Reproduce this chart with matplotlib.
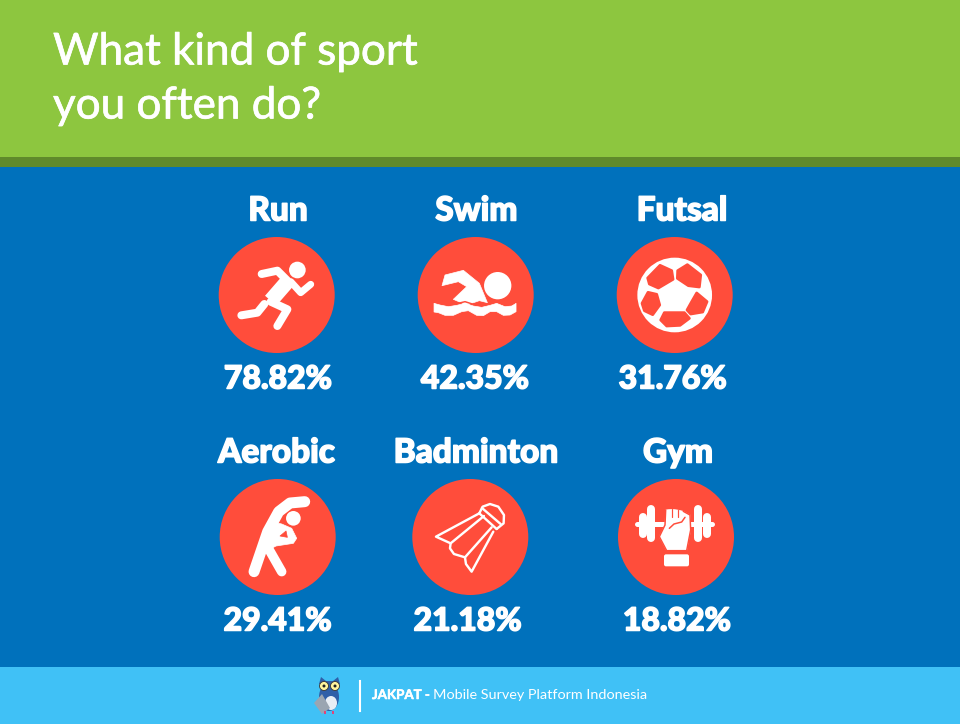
import matplotlib
matplotlib.use('Agg')
from matplotlib import pyplot as plt
from matplotlib import patheffects as pe
from matplotlib.patches import Circle, Ellipse, Polygon, Rectangle, FancyBboxPatch

# data
sports = ['Run', 'Swim', 'Futsal', 'Aerobic', 'Badminton', 'Gym']
shares = [78.82, 42.35, 31.76, 29.41, 21.18, 18.82]
title_lines = ['What kind of sport', 'you often do?']

# layout, in pixels of the reference
circle_x = [276.7, 475.7, 674.7, 277.7, 470.3, 676]
circle_y = [295, 295, 295, 537, 537, 537]
name_x = [278, 476.5, 682, 276.5, 476, 678]
name_y = [211, 211, 211, 453, 453, 453]
share_x = [278, 475, 672.7, 277.7, 467.7, 677]
share_y = [379, 379, 379, 621, 621, 621]

GREEN = '#8DC63F'
DARK_GREEN = '#5F8A2B'
BLUE = '#0071BC'
RED = '#FF4D3B'
SKY = '#40C1F6'
WHITE = '#FFFFFF'
PX = 0.72  # one pixel in points at dpi 100

plt.rcParams['font.family'] = ['Lato', 'DejaVu Sans']
fig = plt.figure(figsize=(9.6, 7.25), dpi=100)
ax = fig.add_axes([0, 0, 1, 1])
ax.set_xlim(0, 960)
ax.set_ylim(725, 0)
ax.axis('off')

# background bands
ax.add_patch(Rectangle((0, 0), 960, 157, fc=GREEN, lw=0))
ax.add_patch(Rectangle((0, 157), 960, 10, fc=DARK_GREEN, lw=0))
ax.add_patch(Rectangle((0, 167), 960, 500, fc=BLUE, lw=0))
ax.add_patch(Rectangle((0, 667), 960, 57, fc=SKY, lw=0))

title_fx = [pe.withStroke(linewidth=0.5, foreground=WHITE)]
ax.text(53, 52, title_lines[0], color=WHITE, fontsize=31.7, va='center', ha='left', path_effects=title_fx)
ax.text(53, 106, title_lines[1], color=WHITE, fontsize=31.7, va='center', ha='left', path_effects=title_fx)


def conv(pts, c, o):
    return [(o[0] + (p[0] - c[0]) / 3, o[1] + (p[1] - c[1]) / 3) for p in pts]


def stroke(pts, c, o, width, color=WHITE, cap='round'):
    xy = conv(pts, c, o)
    ax.plot([p[0] for p in xy], [p[1] for p in xy], color=color, lw=width * PX,
            solid_capstyle=cap, solid_joinstyle='round')


def fill(pts, c, o, color=WHITE, edge=0.5):
    ax.add_patch(Polygon(conv(pts, c, o), closed=True, fc=color, ec=color, lw=edge, joinstyle='round'))


def dot(x, y, r, c, o, color=WHITE):
    ax.add_patch(Circle(conv([(x, y)], c, o)[0], r / 3, fc=color, lw=0))


def run_icon(o):
    c = (230, 315)
    dot(292, 240, 25, c, o)
    stroke([(185, 252), (232, 242), (262, 272)], c, o, 8)
    stroke([(266, 270), (212, 332)], c, o, 15, cap='butt')
    stroke([(272, 275), (302, 308), (332, 283)], c, o, 7)
    stroke([(193, 342), (172, 368), (124, 376)], c, o, 8)
    stroke([(212, 335), (262, 358), (232, 408)], c, o, 8)


def swim_icon(o):
    c = (827, 315)
    dot(893, 287, 41, c, o)
    fill([(735, 255), (790, 241), (838, 280), (862, 338), (838, 332), (800, 345), (760, 328),
          (800, 290), (775, 275), (726, 287)], c, o)
    top = [(702, 340), (720, 345), (745, 350), (770, 346), (795, 340), (820, 348), (845, 352),
           (870, 346), (890, 340), (915, 350), (935, 348), (948, 340)]
    bottom = [(948, 365), (930, 375), (910, 376), (890, 365), (870, 365), (850, 377), (830, 376),
              (805, 362), (785, 365), (760, 376), (735, 376), (715, 368), (702, 366)]
    # red line keeps the body apart from the water
    stroke([(x, y - 5) for x, y in top], c, o, 1.5, RED)
    fill(top + bottom, c, o)


def ball_icon(o):
    c = (224, 315)
    dot(224, 315, 112, c, o)
    pieces = [
        [(143, 264), (180, 226), (215, 242), (219, 268), (175, 294), (148, 282)],
        [(233, 242), (262, 224), (302, 255), (298, 291), (265, 287), (232, 265)],
        [(126, 340), (144, 307), (170, 313), (179, 345), (158, 374), (133, 362)],
        [(290, 309), (321, 335), (308, 366), (272, 372), (261, 360), (275, 335)],
        [(193, 368), (253, 368), (268, 385), (240, 406), (200, 408), (182, 390)],
    ]
    for p in pieces:
        fill(p, c, o, RED, edge=2)


def aerobic_icon(o):
    c = (233, 321)
    dot(280, 265, 22, c, o)
    stroke([(314, 215), (270, 219), (236, 245), (203, 305), (162, 425)], c, o, 11)
    stroke([(205, 355), (245, 425)], c, o, 9.5)
    fill([(215, 275), (245, 282), (275, 295), (290, 325), (280, 340), (228, 348), (205, 360), (175, 380)], c, o)
    fill([(240, 318), (258, 303), (262, 322)], c, o, RED)


def shuttle_icon(o):
    c = (811, 321)
    lw = 2.4
    stroke([(838, 250), (708, 320), (752, 340), (750, 355), (762, 372), (795, 382), (798, 402),
            (815, 425), (880, 305)], c, o, lw)
    stroke([(752, 340), (852, 258)], c, o, lw)
    stroke([(795, 382), (875, 292)], c, o, lw)
    stroke([(838, 250), (890, 297)], c, o, lw)
    stroke([(846, 234), (902, 282)], c, o, lw)
    stroke([(838, 250), (848, 230), (870, 222), (895, 230), (912, 255), (911, 280), (890, 297)], c, o, lw)


def gym_icon(o):
    c = (228, 321)
    stroke([(112, 283), (336, 283)], c, o, 5)
    stroke([(130, 262), (130, 312)], c, o, 8)
    stroke([(153, 238), (153, 325)], c, o, 8)
    stroke([(295, 238), (295, 325)], c, o, 8)
    stroke([(320, 262), (320, 312)], c, o, 8)
    hand = [(197, 240), (215, 238), (232, 240), (250, 244), (270, 255), (272, 300), (260, 362),
            (200, 362), (178, 320), (195, 285)]
    fill(hand, c, o, WHITE)
    stroke(hand[3:] + hand[:1], c, o, 1.5, RED)
    stroke([(215, 238), (215, 262)], c, o, 1.2, RED)
    stroke([(233, 240), (233, 262)], c, o, 1.2, RED)
    stroke([(208, 295), (222, 282), (245, 276), (255, 262)], c, o, 1.5, RED)
    x0, y0 = conv([(192, 373)], c, o)[0]
    ax.add_patch(FancyBboxPatch((x0, y0), 25, 12, boxstyle='round,pad=0,rounding_size=2', fc=WHITE, lw=0))


icons = [run_icon, swim_icon, ball_icon, aerobic_icon, shuttle_icon, gym_icon]
heavy = [pe.withStroke(linewidth=1.1, foreground=WHITE)]

for i, sport in enumerate(sports):
    ax.add_patch(Circle((circle_x[i], circle_y[i]), 58, fc=RED, lw=0))
    icons[i]((circle_x[i], circle_y[i]))
    ax.text(name_x[i], name_y[i], sport, color=WHITE, fontsize=24, fontweight='black',
            ha='center', va='center', path_effects=heavy)
    ax.text(share_x[i], share_y[i], f'{shares[i]:.2f}%', color=WHITE, fontsize=23, fontweight='black',
            ha='center', va='center', path_effects=heavy)

# footer: owl logo, divider, caption
ax.add_patch(Polygon([(319, 684), (321, 677), (326, 681), (333, 681), (338, 677), (340, 684)], fc='#2F5FA8', lw=0))
ax.add_patch(Ellipse((329, 697), 20, 28, fc='#2F5FA8', lw=0))
ax.add_patch(Ellipse((331, 703), 12, 14, fc='#E8EEF5', lw=0))
ax.add_patch(Polygon([(314, 703), (322, 694), (330, 708), (322, 714)], fc='#9AA5B1', lw=0))
ax.add_patch(Circle((324, 686), 4.5, fc='#FFF59D', ec='#333333', lw=0.6))
ax.add_patch(Circle((335, 686), 4.5, fc='#FFF59D', ec='#333333', lw=0.6))
ax.add_patch(Circle((324, 686), 1.5, fc='#222222', lw=0))
ax.add_patch(Circle((335, 686), 1.5, fc='#222222', lw=0))
ax.add_patch(Rectangle((324, 711), 2, 3, fc='#E0457B', lw=0))
ax.add_patch(Rectangle((332, 711), 2, 3, fc='#E0457B', lw=0))
ax.plot([360, 360], [681, 711], color=WHITE, lw=1.5)
ax.text(372, 695, 'JAKPAT -', color=WHITE, fontsize=9.6, fontweight='bold', va='center', ha='left',
        path_effects=[pe.withStroke(linewidth=0.4, foreground=WHITE)])
ax.text(433, 695, 'Mobile Survey Platform Indonesia', color=WHITE, fontsize=10.4, fontweight='normal',
        va='center', ha='left')

fig.savefig('out.png', dpi=100, facecolor=WHITE)
